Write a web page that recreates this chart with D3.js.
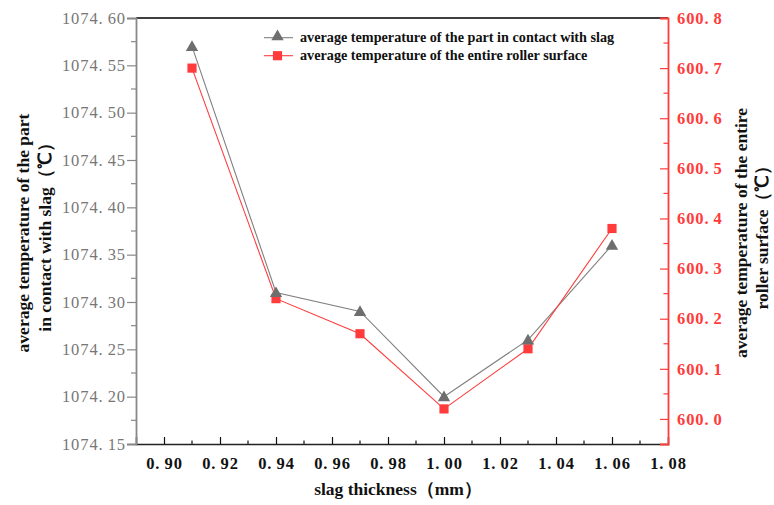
<!DOCTYPE html>
<html><head><meta charset="utf-8">
<script src="https://cdn.jsdelivr.net/npm/d3@7"></script>
<style>body{margin:0;background:#fff}svg{display:block}</style>
</head><body>
<script>
const thickness = [0.91, 0.94, 0.97, 1.00, 1.03, 1.06];
const contactTemp = [1074.57, 1074.31, 1074.29, 1074.20, 1074.26, 1074.36];
const rollerTemp = [600.70, 600.24, 600.17, 600.02, 600.14, 600.38];
const xTicks = [0.90, 0.92, 0.94, 0.96, 0.98, 1.00, 1.02, 1.04, 1.06, 1.08];
const yLeftTicks = [1074.15, 1074.20, 1074.25, 1074.30, 1074.35, 1074.40, 1074.45, 1074.50, 1074.55, 1074.60];
const yRightTicks = [600.0, 600.1, 600.2, 600.3, 600.4, 600.5, 600.6, 600.7, 600.8];
const seriesNames = ["average temperature of the part in contact with slag", "average temperature of the entire roller surface"];

const W = 774, H = 505;
const m = {l:136, r:668, t:18, b:444};
const GRAY = "#6e6e6e", RED = "#ff3b3b";
const svg = d3.select("body").append("svg").attr("width", W).attr("height", H);

const x = d3.scaleLinear().domain([0.89, 1.08]).range([m.l, m.r]);
const yL = d3.scaleLinear().domain([1074.15, 1074.60]).range([m.b, m.t]);
const yR = d3.scaleLinear().domain([599.95, 600.8]).range([m.b, m.t]);

const tickFont = "'Liberation Serif', serif";
const fmt2 = d3.format(".2f"), fmt1 = d3.format(".1f");

// split "1074.60" into "1074." + "60" with a wider gap after the point (SimSun-like look)
function styleTicks(sel, fmt, size, weight, fill) {
  sel.selectAll(".tick text").each(function(d) {
    const s = fmt(d), i = s.indexOf(".");
    const t = d3.select(this).text("");
    t.append("tspan").text(s.slice(0, i + 1));
    t.append("tspan").attr("dx", size * 0.25).text(s.slice(i + 1));
  }).attr("font-family", tickFont).attr("font-size", size).attr("font-weight", weight)
    .attr("fill", fill).attr("letter-spacing", 0.9);
}

// top border
svg.append("line").attr("x1", m.l).attr("x2", m.r).attr("y1", m.t).attr("y2", m.t)
  .attr("stroke", "#000").attr("stroke-width", 1.5);

// bottom axis (ticks inward)
const minorX = d3.range(0, 19).map(i => +(0.90 + i*0.01).toFixed(2)).filter(v => !xTicks.includes(v));
const gx = svg.append("g").attr("transform", `translate(0,${m.b})`);
gx.call(d3.axisBottom(x).tickValues(xTicks).tickSize(-7).tickPadding(13).tickFormat(d => fmt2(d)));
gx.selectAll(".tick").filter(d => d === 1.08).select("line").remove();
gx.append("g").selectAll("line").data(minorX).join("line")
  .attr("x1", d => x(d)).attr("x2", d => x(d)).attr("y1", 0).attr("y2", -3.5)
  .attr("stroke", "#111").attr("stroke-width", 1.2);
gx.select(".domain").attr("stroke", "#222").attr("stroke-width", 1.5);
gx.selectAll(".tick line").attr("stroke", "#111").attr("stroke-width", 1.2);
styleTicks(gx, fmt2, 16.5, "bold", "#111");

// left axis (ticks outward)
const minorL = d3.range(0, 9).map(i => 1074.175 + i*0.05);
const gl = svg.append("g").attr("transform", `translate(${m.l},0)`);
gl.call(d3.axisLeft(yL).tickValues(yLeftTicks).tickSize(9).tickPadding(1).tickFormat(d => fmt2(d)));
gl.append("g").selectAll("line").data(minorL).join("line")
  .attr("x1", 0).attr("x2", -5).attr("y1", d => yL(d)).attr("y2", d => yL(d))
  .attr("stroke", "#888").attr("stroke-width", 1.2);
gl.select(".domain").attr("stroke", "#888").attr("stroke-width", 1.8);
gl.selectAll(".tick line").attr("stroke", "#888").attr("stroke-width", 1.2);
styleTicks(gl, fmt2, 16.5, "normal", "#777");

// right axis (ticks inward)
const minorR = d3.range(0, 8).map(i => 600.05 + i*0.1);
const gr = svg.append("g").attr("transform", `translate(${m.r},0)`);
gr.call(d3.axisRight(yR).tickValues(yRightTicks).tickSize(-8).tickPadding(9).tickFormat(d => fmt1(d)));
gr.append("g").selectAll("line").data(minorR).join("line")
  .attr("x1", 0).attr("x2", -4.5).attr("y1", d => yR(d)).attr("y2", d => yR(d))
  .attr("stroke", RED).attr("stroke-width", 1.2);
gr.select(".domain").attr("stroke", RED).attr("stroke-width", 1.8);
gr.selectAll(".tick line").attr("stroke", RED).attr("stroke-width", 1.2);
styleTicks(gr, fmt1, 16.5, "bold", RED);

// series
const grayData = thickness.map((t, i) => [t, contactTemp[i]]);
const redData = thickness.map((t, i) => [t, rollerTemp[i]]);
svg.append("path").datum(grayData).attr("fill", "none").attr("stroke", "#808080").attr("stroke-width", 1.1)
  .attr("d", d3.line().x(d => x(d[0])).y(d => yL(d[1])));
svg.append("path").datum(redData).attr("fill", "none").attr("stroke", RED).attr("stroke-width", 1.1)
  .attr("d", d3.line().x(d => x(d[0])).y(d => yR(d[1])));

const tri = d3.symbol().type(d3.symbolTriangle).size(66);
const sq = d3.symbol().type(d3.symbolSquare).size(84);
svg.append("g").selectAll("path").data(redData).join("path")
  .attr("transform", d => `translate(${x(d[0])},${yR(d[1])})`).attr("d", sq).attr("fill", RED);
svg.append("g").selectAll("path").data(grayData).join("path")
  .attr("transform", d => `translate(${x(d[0])},${yL(d[1])+1})`).attr("d", tri).attr("fill", GRAY);

// legend
const lg = svg.append("g");
const legendRows = [{c:"#808080", fill:GRAY, sym:tri, dy:-1}, {c:RED, fill:RED, sym:sq, dy:0}];
legendRows.forEach((r, i) => {
  const yy = 37.7 + i*18;
  lg.append("line").attr("x1", 264).attr("x2", 293).attr("y1", yy).attr("y2", yy).attr("stroke", r.c).attr("stroke-width", 1.1);
  lg.append("path").attr("transform", `translate(277.5,${yy + r.dy})`).attr("d", r.sym).attr("fill", r.fill);
  lg.append("text").attr("x", 300).attr("y", yy + 4.5).text(seriesNames[i])
    .attr("font-family", "'Liberation Serif', serif").attr("font-weight", "bold").attr("font-size", 14.2).attr("fill", "#111");
});

// axis titles
const titleFont = "'Liberation Serif', serif";
svg.append("text").attr("x", 398).attr("y", 495).attr("text-anchor", "middle")
  .attr("font-family", titleFont).attr("font-weight", "bold").attr("font-size", 17.5).attr("fill", "#111")
  .text("slag thickness（mm）");

const lt = svg.append("text").attr("transform", "translate(0,233) rotate(-90)").attr("text-anchor", "middle")
  .attr("font-family", titleFont).attr("font-weight", "bold").attr("font-size", 17.5).attr("fill", "#111");
lt.append("tspan").attr("x", 0).attr("y", 29).text("average temperature of the part");
lt.append("tspan").attr("x", 0).attr("y", 51).text("in contact with slag（℃）");

const rt = svg.append("text").attr("transform", "translate(0,233) rotate(-90)").attr("text-anchor", "middle")
  .attr("font-family", titleFont).attr("font-weight", "bold").attr("font-size", 17.5).attr("fill", "#111");
rt.append("tspan").attr("x", 0).attr("y", 747).text("average temperature of the entire");
rt.append("tspan").attr("x", 0).attr("y", 768).text("roller surface（℃）");
</script>
</body></html>
